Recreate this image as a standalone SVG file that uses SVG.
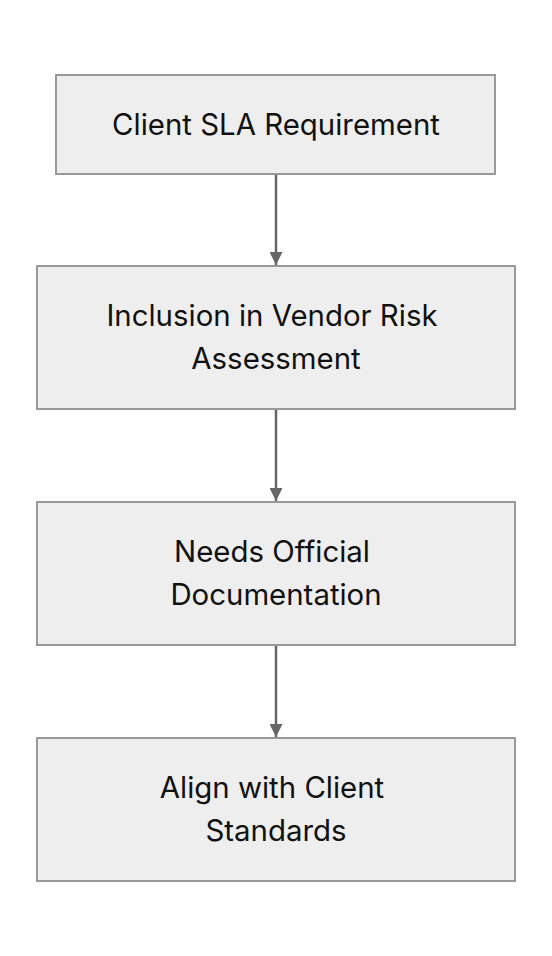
<svg xmlns="http://www.w3.org/2000/svg" width="552" height="956" viewBox="0 0 552 956">
<style>
.node rect{fill:#eeeeee;stroke:#999999;stroke-width:2}
.node text{font-family:Inter,"Liberation Sans",sans-serif;font-size:29.4px;fill:#111111;text-anchor:middle}
.edge{stroke:#666666;stroke-width:2.5;fill:none}
</style>
<defs>
<marker id="arr" markerWidth="14" markerHeight="13" refX="13" refY="6.5" orient="auto" markerUnits="userSpaceOnUse">
<path d="M0,0 L13,6.5 L0,13 Z" fill="#666666"/>
</marker>
</defs>
<rect width="552" height="956" fill="#ffffff"/>
<g id="connectors">
<line class="edge" x1="276" y1="175" x2="276" y2="265" marker-end="url(#arr)"/>
<line class="edge" x1="276" y1="410" x2="276" y2="501" marker-end="url(#arr)"/>
<line class="edge" x1="276" y1="646" x2="276" y2="737" marker-end="url(#arr)"/>
</g>
<g id="n1" class="node">
<rect x="56" y="75" width="439" height="99"/>
<text x="276" y="135">Client SLA Requirement</text>
</g>
<g id="n2" class="node">
<rect x="37" y="266" width="478" height="143"/>
<text x="272" y="326">Inclusion in Vendor Risk</text>
<text x="276" y="369">Assessment</text>
</g>
<g id="n3" class="node">
<rect x="37" y="502" width="478" height="143"/>
<text x="272" y="562">Needs Official</text>
<text x="276" y="605">Documentation</text>
</g>
<g id="n4" class="node">
<rect x="37" y="738" width="478" height="143"/>
<text x="272" y="798">Align with Client</text>
<text x="276" y="841">Standards</text>
</g>
</svg>
